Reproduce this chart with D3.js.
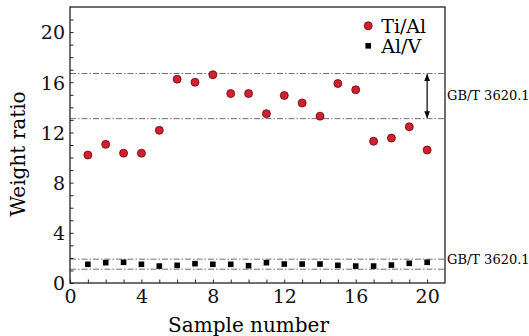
<!DOCTYPE html>
<html>
<head>
<meta charset="utf-8">
<script src="https://cdn.jsdelivr.net/npm/d3@7"></script>
<style>
  body { margin: 0; background: #fff; }
  svg { display: block; }
</style>
</head>
<body>
<svg id="chart"></svg>
<script>
// sample numbers and measured ratios
const samples = d3.range(1, 21);
const tiAl = [10.2, 11.05, 10.35, 10.35, 12.17, 16.25, 16.0, 16.6, 15.1, 15.1,
              13.5, 14.95, 14.35, 13.3, 15.9, 15.4, 11.3, 11.55, 12.45, 10.6];
const alV = [1.49, 1.62, 1.65, 1.49, 1.35, 1.41, 1.54, 1.49, 1.49, 1.38,
             1.62, 1.51, 1.51, 1.51, 1.41, 1.35, 1.35, 1.43, 1.57, 1.65];
// GB/T 3620.1 limits
const tiAlLimits = [13.1, 16.7];
const alVLimits = [1.1, 1.9];
const xTickLabels = [0, 4, 8, 12, 16, 20];
const yTickLabels = [0, 4, 8, 12, 16, 20];

const W = 529, H = 336;
const margin = { top: 7, right: 84, bottom: 53, left: 70 };
const width = W - margin.left - margin.right;
const height = H - margin.top - margin.bottom;
const font = "'DejaVu Serif', serif";

const svg = d3.select('#chart').attr('width', W).attr('height', H);
const g = svg.append('g').attr('transform', `translate(${margin.left},${margin.top})`);

const x = d3.scaleLinear().domain([0, 21]).range([0, width]);
const y = d3.scaleLinear().domain([0, 22]).range([height, 0]);

// reference lines
const dashDot = '6,2,1.5,2';
g.selectAll('.ref')
  .data(tiAlLimits.concat(alVLimits))
  .enter().append('line')
  .attr('class', 'ref')
  .attr('x1', 0).attr('x2', width)
  .attr('y1', d => y(d)).attr('y2', d => y(d))
  .attr('stroke', '#6f6f6f')
  .attr('stroke-width', 1)
  .attr('stroke-dasharray', dashDot);

// axes (ticks inward)
const xAxis = d3.axisBottom(x)
  .tickValues(d3.range(0, 21))
  .tickSize(-3.5)
  .tickFormat(d => xTickLabels.includes(d) ? d : '');
const yAxis = d3.axisLeft(y)
  .tickValues(d3.range(0, 22))
  .tickSize(-3.5)
  .tickFormat(d => yTickLabels.includes(d) ? d : '');

const gx = g.append('g')
  .attr('transform', `translate(0,${height})`)
  .call(xAxis);
gx.select('.domain').remove();
gx.selectAll('text')
  .attr('y', 7)
  .attr('font-family', font)
  .attr('font-size', 19)
  .attr('fill', '#111');

const gy = g.append('g').call(yAxis);
gy.select('.domain').remove();
gy.selectAll('text')
  .attr('x', -5)
  .attr('dy', '0.36em')
  .attr('font-family', font)
  .attr('font-size', 19)
  .attr('fill', '#111');
g.selectAll('.tick line').attr('stroke', '#222');

// frame
g.append('rect')
  .attr('width', width).attr('height', height)
  .attr('fill', 'none')
  .attr('stroke', '#222')
  .attr('stroke-width', 1.3);

// Al/V squares
g.selectAll('.sq')
  .data(samples)
  .enter().append('rect')
  .attr('class', 'sq')
  .attr('x', d => x(d) - 2.8)
  .attr('y', (d, i) => y(alV[i]) - 2.8)
  .attr('width', 5.6).attr('height', 5.6)
  .attr('fill', '#000');

// Ti/Al circles
g.selectAll('.dot')
  .data(samples)
  .enter().append('circle')
  .attr('class', 'dot')
  .attr('cx', d => x(d))
  .attr('cy', (d, i) => y(tiAl[i]))
  .attr('r', 4)
  .attr('fill', '#d4202c')
  .attr('stroke', '#5a0a0e')
  .attr('stroke-width', 0.8);

// double arrow between Ti/Al limits
const defs = svg.append('defs');
defs.append('marker')
  .attr('id', 'ah')
  .attr('viewBox', '0 0 10 10')
  .attr('refX', 9).attr('refY', 5)
  .attr('markerWidth', 6).attr('markerHeight', 6)
  .attr('orient', 'auto-start-reverse')
  .append('path')
  .attr('d', 'M0,1L10,5L0,9z')
  .attr('fill', '#000');

g.append('line')
  .attr('x1', x(20)).attr('x2', x(20))
  .attr('y1', y(tiAlLimits[1]) + 1).attr('y2', y(tiAlLimits[0]) - 1)
  .attr('stroke', '#000')
  .attr('stroke-width', 1.2)
  .attr('marker-start', 'url(#ah)')
  .attr('marker-end', 'url(#ah)');

// standard labels
g.append('text')
  .attr('x', width + 2)
  .attr('y', y(d3.mean(tiAlLimits)) + 4)
  .attr('font-family', font)
  .attr('font-size', 13)
  .text('GB/T 3620.1');
g.append('text')
  .attr('x', width + 2)
  .attr('y', y(alVLimits[1]) + 5)
  .attr('font-family', font)
  .attr('font-size', 13)
  .text('GB/T 3620.1');

// legend
const legend = g.append('g').attr('transform', `translate(${x(16.7)},${y(20.5)})`);
legend.append('circle').attr('r', 4)
  .attr('fill', '#d4202c').attr('stroke', '#5a0a0e').attr('stroke-width', 0.8);
legend.append('text').attr('x', 13).attr('y', 7)
  .attr('font-family', font).attr('font-size', 19).text('Ti/Al');
legend.append('rect').attr('x', -2.8).attr('y', 17.2).attr('width', 5.6).attr('height', 5.6).attr('fill', '#000');
legend.append('text').attr('x', 13).attr('y', 27)
  .attr('font-family', font).attr('font-size', 19).text('Al/V');

// axis titles
svg.append('text')
  .attr('x', margin.left + x(10))
  .attr('y', 332)
  .attr('text-anchor', 'middle')
  .attr('font-family', font)
  .attr('font-size', 20)
  .text('Sample number');
svg.append('text')
  .attr('transform', `translate(25,154) rotate(-90)`)
  .attr('text-anchor', 'middle')
  .attr('font-family', font)
  .attr('font-size', 20)
  .text('Weight ratio');
</script>
</body>
</html>
